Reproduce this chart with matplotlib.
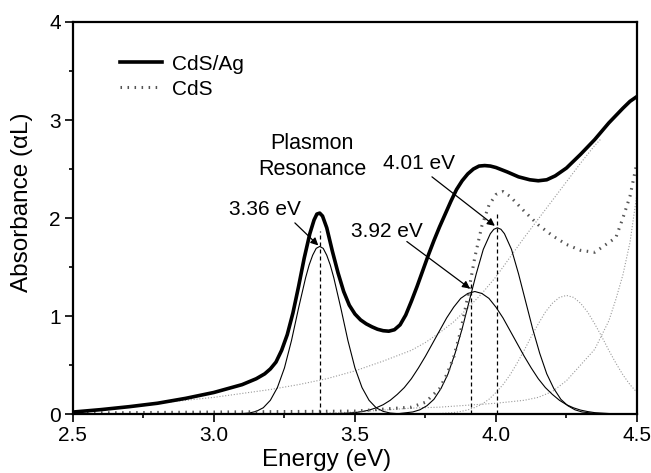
"""
Absorbance spectra of CdS/Ag and CdS with Gaussian peak fits.
"""

import matplotlib
matplotlib.use("Agg")
import matplotlib.pyplot as plt
from matplotlib.lines import Line2D

plt.rcParams["font.family"] = ["Liberation Sans", "DejaVu Sans"]

# measured spectra (energy in eV, absorbance in alpha*L)
cdsag_e = [2.5, 2.6, 2.7, 2.8, 2.9, 3.0, 3.05, 3.1, 3.15, 3.18, 3.2, 3.22,
           3.24, 3.26, 3.28, 3.3, 3.32, 3.34, 3.355, 3.365, 3.375, 3.385,
           3.4, 3.42, 3.44, 3.46, 3.48, 3.5, 3.52, 3.54, 3.56, 3.58, 3.6,
           3.62, 3.64, 3.66, 3.68, 3.7, 3.72, 3.74, 3.76, 3.78, 3.8, 3.82,
           3.84, 3.86, 3.88, 3.9, 3.92, 3.94, 3.96, 3.98, 4.0, 4.04, 4.08,
           4.12, 4.15, 4.18, 4.21, 4.25, 4.3, 4.35, 4.4, 4.45, 4.475, 4.5]
cdsag_a = [0.02, 0.045, 0.075, 0.11, 0.16, 0.22, 0.26, 0.30, 0.36, 0.41,
           0.46, 0.53, 0.65, 0.81, 1.03, 1.30, 1.59, 1.84, 1.98, 2.04, 2.05,
           2.02, 1.90, 1.66, 1.44, 1.25, 1.11, 1.02, 0.96, 0.92, 0.89, 0.865,
           0.85, 0.845, 0.86, 0.91, 1.01, 1.15, 1.30, 1.46, 1.62, 1.77, 1.91,
           2.04, 2.17, 2.29, 2.38, 2.45, 2.50, 2.53, 2.535, 2.53, 2.515, 2.47,
           2.42, 2.39, 2.38, 2.39, 2.43, 2.51, 2.65, 2.80, 2.97, 3.12, 3.19,
           3.24]

cds_e = [2.5, 3.0, 3.5, 3.6, 3.7, 3.75, 3.8, 3.825, 3.85, 3.875, 3.9, 3.925,
         3.95, 3.975, 4.0, 4.025, 4.05, 4.1, 4.15, 4.2, 4.25, 4.3, 4.35, 4.4,
         4.425, 4.45, 4.475, 4.5]
cds_a = [0.01, 0.02, 0.03, 0.05, 0.07, 0.12, 0.26, 0.40, 0.58, 0.85, 1.20,
         1.60, 1.92, 2.13, 2.24, 2.27, 2.22, 2.07, 1.93, 1.82, 1.73, 1.67,
         1.65, 1.75, 1.80, 2.00, 2.22, 2.57]

# fitted peaks (solid)
g1_e = [3.1, 3.125, 3.15, 3.175, 3.2, 3.225, 3.25, 3.275, 3.3, 3.325, 3.3375,
        3.35, 3.3625, 3.375, 3.3875, 3.4, 3.4125, 3.425, 3.45, 3.475, 3.5,
        3.525, 3.55, 3.575, 3.6, 3.625, 3.65, 3.7]
g1_a = [0.004, 0.01, 0.027, 0.064, 0.14, 0.27, 0.47, 0.75, 1.08, 1.39, 1.52,
        1.62, 1.69, 1.71, 1.69, 1.62, 1.52, 1.39, 1.08, 0.75, 0.47, 0.27,
        0.14, 0.064, 0.027, 0.01, 0.004, 0.0]

g2_e = [3.45, 3.5, 3.525, 3.55, 3.575, 3.6, 3.625, 3.65, 3.675, 3.7, 3.725,
        3.75, 3.775, 3.8, 3.825, 3.85, 3.875, 3.9, 3.925, 3.95, 3.975, 4.0,
        4.025, 4.05, 4.075, 4.1, 4.125, 4.15, 4.175, 4.2, 4.225, 4.25, 4.275,
        4.3, 4.325, 4.35, 4.4, 4.45]
g2_a = [0.005, 0.014, 0.025, 0.04, 0.063, 0.095, 0.14, 0.20, 0.27, 0.36,
        0.47, 0.59, 0.72, 0.85, 0.98, 1.09, 1.18, 1.23, 1.25, 1.23, 1.18,
        1.09, 0.98, 0.85, 0.72, 0.59, 0.47, 0.36, 0.27, 0.20, 0.14, 0.095,
        0.063, 0.04, 0.025, 0.014, 0.005, 0.0]

g3_e = [3.655, 3.705, 3.73, 3.755, 3.78, 3.805, 3.83, 3.855, 3.88, 3.905,
        3.93, 3.955, 3.98, 3.9925, 4.005, 4.0175, 4.03, 4.055, 4.08, 4.105,
        4.13, 4.155, 4.18, 4.205, 4.23, 4.255, 4.28, 4.305, 4.355, 4.405]
g3_a = [0.004, 0.021, 0.043, 0.084, 0.15, 0.26, 0.41, 0.62, 0.87, 1.15, 1.43,
        1.68, 1.84, 1.885, 1.90, 1.885, 1.84, 1.68, 1.43, 1.15, 0.87, 0.62,
        0.41, 0.26, 0.15, 0.084, 0.043, 0.021, 0.004, 0.0]

# other fit components (light grey dotted)
broad_e = [2.5, 2.6, 2.7, 2.8, 2.9, 3.0, 3.1, 3.2, 3.3, 3.4, 3.5, 3.6, 3.7,
           3.75, 3.8, 3.85, 3.9, 3.95, 4.0, 4.05, 4.1, 4.15, 4.2, 4.25, 4.3,
           4.35, 4.37]
broad_a = [0.02, 0.045, 0.075, 0.11, 0.14, 0.17, 0.21, 0.25, 0.30, 0.36,
           0.44, 0.54, 0.65, 0.73, 0.83, 0.94, 1.08, 1.23, 1.40, 1.60, 1.80,
           1.99, 2.18, 2.37, 2.56, 2.74, 2.80]

g4_e = [3.8, 3.85, 3.875, 3.9, 3.925, 3.95, 3.975, 4.0, 4.025, 4.05, 4.075,
        4.1, 4.125, 4.15, 4.175, 4.2, 4.225, 4.25, 4.275, 4.3, 4.325, 4.35,
        4.375, 4.4, 4.425, 4.45, 4.475, 4.5]
g4_a = [0.005, 0.015, 0.026, 0.042, 0.067, 0.10, 0.15, 0.22, 0.30, 0.40,
        0.52, 0.65, 0.79, 0.92, 1.04, 1.13, 1.19, 1.21, 1.19, 1.13, 1.04,
        0.92, 0.79, 0.65, 0.52, 0.40, 0.30, 0.22]

steep_e = [3.4, 3.5, 3.6, 3.7, 3.8, 3.9, 4.0, 4.1, 4.15, 4.2, 4.25, 4.3,
           4.35, 4.4, 4.425, 4.45, 4.475, 4.5]
steep_a = [0.01, 0.02, 0.04, 0.06, 0.07, 0.09, 0.11, 0.14, 0.17, 0.23, 0.34,
           0.50, 0.66, 0.95, 1.17, 1.42, 1.75, 2.25]

# marked peak positions
peak_e = [3.375, 3.91, 4.005]
peak_top = [1.87, 1.33, 2.05]
peak_labels = ["3.36 eV", "3.92 eV", "4.01 eV"]

fig = plt.figure(figsize=(6.51, 4.73), dpi=100)
ax = fig.add_axes([0.112, 0.1247, 0.8665, 0.8288])

grey_dot = dict(color="#9a9a9a", lw=0.8, linestyle=(0, (1, 1.6)))
ax.plot(broad_e, broad_a, **grey_dot)
ax.plot(g4_e, g4_a, **grey_dot)
ax.plot(steep_e, steep_a, **grey_dot)

for e, a in [(g1_e, g1_a), (g2_e, g2_a), (g3_e, g3_a)]:
    ax.plot(e, a, color="black", lw=0.8)

ax.vlines(peak_e, 0, peak_top, colors="black", lw=0.9,
          linestyles=[(0, (3.2, 2.4))])

ax.plot(cds_e, cds_a, color="#555555", lw=2.2, linestyle=(0, (0.5, 1.8)))
ax.plot(cdsag_e, cdsag_a, color="black", lw=2.6, zorder=5,
        solid_joinstyle="round")

fs = 15
# annotations
ax.text(3.18, 2.09, peak_labels[0], fontsize=fs, ha="center", va="center")
ax.text(3.613, 1.86, peak_labels[1], fontsize=fs, ha="center", va="center")
ax.text(3.727, 2.56, peak_labels[2], fontsize=fs, ha="center", va="center")
ax.text(3.348, 2.63, "Plasmon\nResonance", fontsize=15.5, ha="center",
        va="center", multialignment="center", linespacing=1.3)

arrow = dict(arrowstyle="-|>", color="black", lw=0.9, mutation_scale=11,
             shrinkA=0, shrinkB=0)
ax.annotate("", xy=(3.37, 1.72), xytext=(3.287, 1.95), arrowprops=arrow)
ax.annotate("", xy=(3.908, 1.28), xytext=(3.684, 1.76), arrowprops=arrow)
ax.annotate("", xy=(3.996, 1.92), xytext=(3.773, 2.42), arrowprops=arrow)

# legend
handles = [Line2D([], [], color="black", lw=2.6),
           Line2D([], [], color="#555555", lw=2.2, linestyle=(0, (0.5, 1.8)))]
ax.legend(handles, ["CdS/Ag", "CdS"], loc="upper left",
          bbox_to_anchor=(0.083, 0.917), frameon=False, fontsize=fs,
          borderpad=0, borderaxespad=0, handlelength=2.05,
          handletextpad=0.45, labelspacing=0.3)

ax.set_xlim(2.5, 4.5)
ax.set_ylim(0, 4)
ax.set_xticks([2.5, 3.0, 3.5, 4.0, 4.5])
ax.set_xticks([2.75, 3.25, 3.75, 4.25], minor=True)
ax.set_yticks([0, 1, 2, 3, 4])
ax.set_yticks([0.5, 1.5, 2.5, 3.5], minor=True)
ax.tick_params(which="major", direction="out", length=5.8, width=1.2,
               labelsize=fs, pad=3)
ax.tick_params(which="minor", direction="out", length=3, width=1.2)
for sp in ax.spines.values():
    sp.set_linewidth(1.6)

ax.set_xlabel("Energy (eV)", fontsize=17.5)
ax.set_ylabel("Absorbance (\u03b1L)", fontsize=17.5)
ax.xaxis.set_label_coords(0.45, -0.088)
ax.yaxis.set_label_coords(-0.07, 0.54)

fig.savefig("out.png", dpi=100)
plt.close(fig)
